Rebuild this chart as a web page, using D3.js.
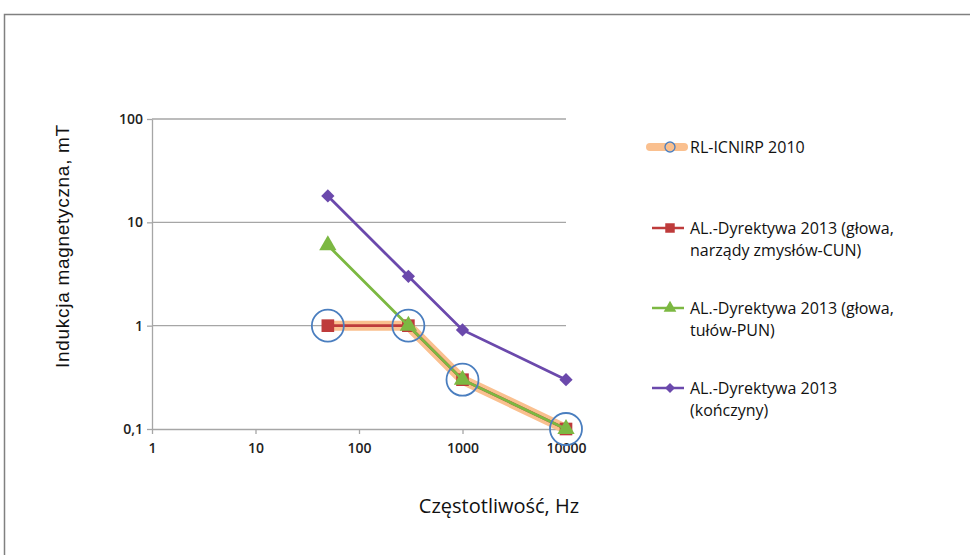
<!DOCTYPE html>
<html>
<head>
<meta charset="utf-8">
<script src="https://cdn.jsdelivr.net/npm/d3@7"></script>
<style>
  body { margin: 0; background: #fff; }
  svg { display: block; }
</style>
</head>
<body>
<div id="chart"></div>
<script>
// Data
const freqs = [50, 300, 1000, 10000];
const icnirp = [1, 1, 0.3, 0.1];
const cun = [1, 1, 0.3, 0.1];
const pun = [6, 1, 0.3, 0.1];
const konczyny = [18, 3, 0.91, 0.3];
const xTicks = [1, 10, 100, 1000, 10000];
const yTicks = [0.1, 1, 10, 100];
const seriesNames = [
    ["RL-ICNIRP 2010"],
    ["AL.-Dyrektywa 2013 (głowa,", "narządy zmysłów-CUN)"],
    ["AL.-Dyrektywa 2013 (głowa,", "tułów-PUN)"],
    ["AL.-Dyrektywa 2013", "(kończyny)"]
];

const width = 970, height = 555;
const font = "'Open Sans', 'Noto Sans', sans-serif";

const svg = d3.select("#chart").append("svg")
    .attr("width", width)
    .attr("height", height);

// Outer frame
svg.append("rect")
    .attr("x", 4.5).attr("y", 14.5)
    .attr("width", 1000).attr("height", 600)
    .attr("fill", "none")
    .attr("stroke", "#808080")
    .attr("stroke-width", 1.5);

// Scales
const x = d3.scaleLog().domain([1, 10000]).range([152, 566]);
const y = d3.scaleLog().domain([0.1, 100]).range([429, 119]);

// Gridlines
svg.append("g")
    .selectAll("line")
    .data(yTicks.slice(1))
    .enter()
    .append("line")
    .attr("x1", x(1)).attr("x2", x(10000))
    .attr("y1", d => y(d)).attr("y2", d => y(d))
    .attr("stroke", "#a6a6a6")
    .attr("stroke-width", 1.3);

// Y axis
const yAxis = svg.append("g")
    .attr("transform", `translate(${x(1)},0)`)
    .call(d3.axisLeft(y).tickValues(yTicks).tickSize(5).tickSizeOuter(0)
        .tickFormat(d => String(d).replace(".", ",")));
yAxis.select(".domain").attr("stroke", "#a6a6a6").attr("stroke-width", 1.3);
yAxis.selectAll(".tick line").attr("stroke", "#a6a6a6").attr("stroke-width", 1.3);
yAxis.selectAll("text")
    .attr("x", -9)
    .style("font-family", font)
    .style("font-size", "14px")
    .style("font-weight", 600)
    .attr("fill", "#222");

// X axis
const xAxis = svg.append("g")
    .attr("transform", `translate(0,${y(0.1)})`)
    .call(d3.axisBottom(x).tickValues(xTicks).tickSize(5).tickSizeOuter(0)
        .tickFormat(d3.format("d")));
xAxis.select(".domain").attr("stroke", "#a6a6a6").attr("stroke-width", 1.3);
xAxis.selectAll(".tick line").attr("stroke", "#a6a6a6").attr("stroke-width", 1.3);
xAxis.selectAll("text")
    .attr("y", 14)
    .style("font-family", font)
    .style("font-size", "14px")
    .style("font-weight", 600)
    .attr("fill", "#222");

// Axis titles
svg.append("text")
    .attr("transform", `translate(69,246) rotate(-90)`)
    .attr("text-anchor", "middle")
    .style("font-family", "'Liberation Sans', Arial, sans-serif")
    .style("font-size", "19px")
    .style("letter-spacing", "0.7px")
    .attr("fill", "#111")
    .text("Indukcja magnetyczna, mT");

svg.append("text")
    .attr("x", 499).attr("y", 513)
    .attr("text-anchor", "middle")
    .style("font-family", font)
    .style("font-size", "20px")
    .attr("fill", "#111")
    .text("Częstotliwość, Hz");

const line = d3.line().x(d => x(d[0])).y(d => y(d[1]));
const pts = vals => freqs.map((f, i) => [f, vals[i]]);

// ICNIRP thick band
svg.append("path")
    .attr("d", line(pts(icnirp)))
    .attr("fill", "none")
    .attr("stroke", "#fac08f")
    .attr("stroke-width", 10)
    .attr("stroke-linejoin", "round");

const colors = { red: "#be3b3b", green: "#7cb842", purple: "#6b49ac", blue: "#4a7ebf", orange: "#fac08f" };

// rot = 45 turns a square into a diamond
function drawSeries(vals, color, shape, size, rot) {
    svg.append("path")
        .attr("d", line(pts(vals)))
        .attr("fill", "none")
        .attr("stroke", color)
        .attr("stroke-width", 2.8);
    svg.append("g")
        .selectAll("path")
        .data(pts(vals))
        .enter()
        .append("path")
        .attr("transform", d => `translate(${x(d[0])},${y(d[1])}) rotate(${rot})`)
        .attr("d", d3.symbol().type(shape).size(size))
        .attr("fill", color);
}

drawSeries(cun, colors.red, d3.symbolSquare, 160, 0);
drawSeries(pun, colors.green, d3.symbolTriangle, 130, 0);
drawSeries(konczyny, colors.purple, d3.symbolSquare, 88, 45);

// ICNIRP circle markers
svg.append("g")
    .selectAll("circle")
    .data(pts(icnirp))
    .enter()
    .append("circle")
    .attr("cx", d => x(d[0]))
    .attr("cy", d => y(d[1]))
    .attr("r", 16)
    .attr("fill", "none")
    .attr("stroke", colors.blue)
    .attr("stroke-width", 1.8);

// Legend
const legendY = [147, 228, 308, 388];
const legend = svg.append("g");
legend.append("line")
    .attr("x1", 650).attr("x2", 684)
    .attr("y1", legendY[0]).attr("y2", legendY[0])
    .attr("stroke", colors.orange).attr("stroke-width", 8)
    .attr("stroke-linecap", "round");
legend.append("circle")
    .attr("cx", 670).attr("cy", legendY[0]).attr("r", 5)
    .attr("fill", "none").attr("stroke", colors.blue).attr("stroke-width", 1.3);

const legendMarks = [
    [colors.red, d3.symbolSquare, 90, 0],
    [colors.green, d3.symbolTriangle, 70, 0],
    [colors.purple, d3.symbolSquare, 50, 45]
];
legendMarks.forEach((m, i) => {
    const ly = legendY[i + 1];
    legend.append("line")
        .attr("x1", 652).attr("x2", 684)
        .attr("y1", ly).attr("y2", ly)
        .attr("stroke", m[0]).attr("stroke-width", 2.5);
    legend.append("path")
        .attr("transform", `translate(670,${ly}) rotate(${m[3]})`)
        .attr("d", d3.symbol().type(m[1]).size(m[2]))
        .attr("fill", m[0]);
});

seriesNames.forEach((lines, i) => {
    const t = legend.append("text")
        .attr("x", 690)
        .attr("y", legendY[i] + 6)
        .style("font-family", font)
        .style("font-size", "16px")
        .attr("fill", "#111");
    lines.forEach((s, j) => {
        t.append("tspan").attr("x", 690).attr("dy", j === 0 ? 0 : 22).text(s);
    });
});
</script>
</body>
</html>
